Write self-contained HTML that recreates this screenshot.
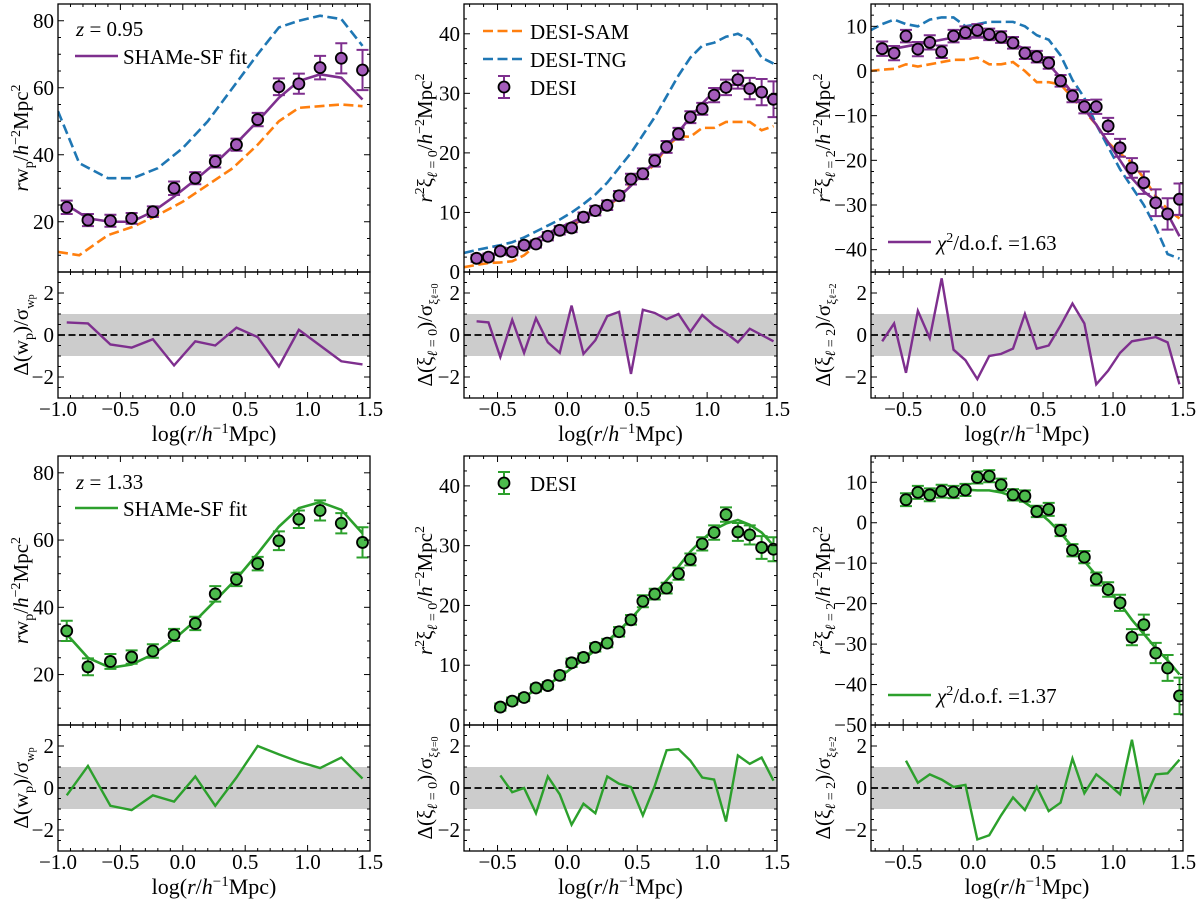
<!DOCTYPE html>
<html><head><meta charset="utf-8">
<style>
html,body{margin:0;padding:0;background:#fff;}
svg{display:block;font-family:"Liberation Serif",serif;}
</style></head>
<body>
<svg id="fig" width="1200" height="904" viewBox="0 0 1200 904" xmlns="http://www.w3.org/2000/svg"></svg>
<script>
// ---- Data ----
const xWp = [-0.93,-0.76,-0.58,-0.41,-0.24,-0.07,0.10,0.26,0.43,0.60,0.77,0.93,1.10,1.27,1.44];
const xXiTop = [-0.65,-0.565,-0.48,-0.395,-0.31,-0.225,-0.14,-0.055,0.03,0.115,0.20,0.285,0.37,0.455,0.54,0.625,0.71,0.795,0.88,0.965,1.05,1.135,1.22,1.305,1.39,1.475];
const xXiBot = [-0.48,-0.395,-0.31,-0.225,-0.14,-0.055,0.03,0.115,0.20,0.285,0.37,0.455,0.54,0.625,0.71,0.795,0.88,0.965,1.05,1.135,1.22,1.305,1.39,1.475];
const xSimWp = [-1.0,-0.83,-0.6,-0.4,-0.2,0.0,0.2,0.4,0.6,0.77,0.93,1.1,1.27,1.44];
const xSimXi = [-0.74,-0.65,-0.565,-0.48,-0.395,-0.31,-0.225,-0.14,-0.055,0.03,0.115,0.20,0.285,0.37,0.455,0.54,0.625,0.71,0.795,0.88,0.965,1.05,1.135,1.22,1.305,1.39,1.475];

// z=0.95 wp
const wpA = [24.3,20.5,20.3,21,23,30,33,38,43,50.5,60.3,61.2,66,68.8,65.3];
const wpAErr = [2,1.8,1.8,1.6,1.6,2,1.8,1.8,1.8,2,2.5,3,3.5,4.5,6];
const wpAFit = [25,21,20,20,23,27.5,32.5,37.5,43.5,50,57,62,64,63,56.5];
const wpATng = [53,37.5,33,33,36,42,50,60,70,78,80,81.5,80.5,72.5];
const wpASam = [11,10,16,18.5,22,26,31,36,43,50,54,54.5,55,54.5];
const wpARes = [0.6,0.55,-0.45,-0.6,-0.2,-1.45,-0.3,-0.5,0.35,-0.1,-1.5,0.25,-0.5,-1.25,-1.4];

// z=0.95 xi0
const x0A = [2.3,2.5,3.5,3.4,4.5,4.7,6,7,7.4,9.2,10.3,11.2,12.8,15.6,16.5,18.7,21,23.2,26,27.4,29.7,31,32.3,30.8,30.2,29];
const x0AErr = [0.6,0.6,0.6,0.6,0.6,0.6,0.7,0.7,0.7,0.8,0.8,0.8,0.8,0.9,0.9,1,1,1,1,1,1.2,1.3,1.5,1.8,2.2,3];
const x0AFit = [2.3,2.6,3.2,3.8,4.6,5.5,6.5,7.5,8.3,9.3,10.2,11.2,12.6,14.5,16.5,18.5,21,23.5,26,28.3,30.3,31.3,31.5,31,30,28.5];
const x0ASam = [0.8,1.2,1.5,1.6,1.8,2.8,4.5,6,7,7.5,9.2,10.2,11,12.5,14.8,16.5,18,21,22.8,22.7,24.2,24.2,25.2,25.2,25.2,23.8,24.5];
const x0ATng = [3.2,3.7,4.1,4.5,5,5.8,6.8,7.8,8.8,10,11.4,13,15,17.5,20,23,26,29.5,33,36,38,38.5,39.5,40,39,36,35];
const x0ARes = [0.65,0.6,-1.05,0.72,-0.85,0.8,-0.35,-0.85,1.4,-0.9,-0.25,0.9,1.1,-1.85,1.2,1.05,0.75,1.0,0.15,0.95,0.45,0.1,-0.35,0.3,0.0,-0.3];

// z=0.95 xi2
const x2A = [5,4,7.8,4.9,6.4,4.3,7.8,8.6,9.1,8.2,7.6,6.3,4,3.2,1.8,-2.2,-5.6,-8,-8,-12.3,-17.2,-21.7,-25,-29.5,-32,-28.7];
const x2AErr = [1.6,1.6,1.4,1.6,1.6,1.4,1.4,1.4,1.4,1.3,1.3,1.3,1.3,1.3,1.3,1.3,1.4,1.5,1.6,1.8,2,2.2,2.5,3,3.5,3.5];
const x2AFit = [4.5,5,5.5,6,6.5,7,7.5,7.5,7.5,7.5,7,6,5,3.5,1.5,-1.5,-5,-8.5,-12,-16,-20,-24,-27,-29,-32,-37];
const x2ASam = [0,0.3,0.5,1.5,1,1.5,2,2.5,2.5,3,1.5,1.5,2,0,-2.5,-2.5,-3,-6,-9,-12,-16,-18.5,-20.5,-24,-28,-31,-33];
const x2ATng = [9,10.5,11.5,10.5,10,11.5,12,12,10,10.5,11,11,11,10,8,7,3.5,-2,-6,-12,-17,-22,-26,-30,-35,-41,-42];
const x2ARes = [-0.3,0.55,-1.8,1.15,-0.15,2.7,-0.7,-1.2,-2.1,-1.0,-0.9,-0.65,1.0,-0.65,-0.5,0.45,1.5,0.55,-2.35,-1.7,-0.85,-0.3,-0.2,-0.1,-0.35,-2.35];

// z=1.33 wp
const wpB = [33,22.3,23.9,25.2,27,31.8,35.2,44,48.3,53,59.8,66.2,68.8,65,59.3];
const wpBErr = [3,2.5,2.2,2,2,1.8,2,2.3,2,2,2.8,2.6,3,3,4.5];
const wpBFit = [32,25,22,23,26,30.5,36,42,48.5,56,64,69.5,71.3,69,62];
const wpBRes = [-0.35,1.05,-0.85,-1.05,-0.35,-0.65,0.55,-0.85,0.5,2.0,1.6,1.25,0.95,1.45,0.45];

// z=1.33 xi0
const x0B = [3,4,4.6,6.2,6.6,8.3,10.4,11.3,13,13.7,15.6,17.6,20.7,21.9,22.9,25.3,27.7,30.3,32.2,35.2,32.3,31.8,29.7,29.4];
const x0BErr = [0.6,0.6,0.6,0.6,0.6,0.7,0.7,0.7,0.7,0.7,0.8,0.8,1,0.9,0.9,1,1,1.1,1.2,1.2,1.5,1.6,1.9,2];
const x0BFit = [3,3.8,4.8,5.8,6.8,8,9.5,11,12.5,14,15.8,17.8,20,22,24.2,26.5,29,31,32.7,33.7,34.3,33.5,32.2,30];
const x0BRes = [0.6,-0.2,0.0,-1.2,0.55,-0.3,-1.75,-0.75,-1.2,0.55,0.2,0.05,-1.3,0.1,1.8,1.85,1.3,0.5,0.4,-1.6,1.55,1.15,1.45,0.35];

// z=1.33 xi2
const x2B = [5.7,7.5,6.9,7.8,7.6,8.1,11.2,11.5,9.4,6.9,6.6,2.8,3.3,-1.9,-6.8,-8.5,-13.9,-16.5,-19.8,-28.3,-25.2,-32.2,-35.9,-42.8];
const x2BErr = [1.6,1.6,1.6,1.6,1.5,1.5,1.5,1.5,1.5,1.4,1.4,1.4,1.6,1.4,1.5,1.5,1.6,1.8,2,2,2.5,2.5,3.2,4.5];
const x2BFit = [7,7.5,7.8,8,8.2,8.2,8,8,7.5,6.5,5,3,0.5,-2.5,-6,-9.5,-13,-16.5,-20,-24,-27.5,-31,-34,-37.5];
const x2BRes = [1.3,0.25,0.65,0.4,0.05,0.15,-2.45,-2.25,-1.3,-0.45,-1.05,0.05,-1.1,-0.7,1.4,-0.25,0.65,0.2,-0.3,2.3,-0.65,0.65,0.7,1.35];

// ---- Rendering ----
const NS = "http://www.w3.org/2000/svg";
const svg = document.getElementById('fig');
const PURPLE_L = "#7e2f8e", PURPLE_F = "#a45cba";
const GREEN_L = "#2ca02c", GREEN_F = "#4cbb4c";
const ORANGE = "#ff7f0e", BLUE = "#1f77b4";
const TICKFS = 21;

function mk(tag, attrs, parent){
  const e = document.createElementNS(NS, tag);
  for (const k in attrs) e.setAttribute(k, attrs[k]);
  (parent||svg).appendChild(e);
  return e;
}
function scale(d0,d1,r0,r1){ return v => r0 + (v-d0)/(d1-d0)*(r1-r0); }

function ticks(g, X, Y, x0,x1,y0,y1, xlim, ylim, xMaj, xMin, yMaj, yMin, showXLabels, xLabY){
  const eps=1e-9;
  const addT = (x1_,y1_,x2_,y2_) => { const t = mk('line',{x1:x1_,y1:y1_,x2:x2_,y2:y2_,stroke:'#000','stroke-width':1},g);   };
  for (let v=Math.ceil(xlim[0]/xMin-eps)*xMin; v<=xlim[1]+eps; v+=xMin){
    const isMaj = Math.abs(v/xMaj-Math.round(v/xMaj))<1e-6;
    const L = isMaj?6:3, px=X(v);
    addT(px,y1,px,y1-L); addT(px,y0,px,y0+L);
    if (isMaj && showXLabels){
      const t = mk('text',{x:px,y:xLabY,'text-anchor':'middle','font-size':TICKFS},g);
      t.textContent = (v<-eps?'\u2212':'')+Math.abs(v).toFixed(1);
       
    }
  }
  for (let v=Math.ceil(ylim[0]/yMin-eps)*yMin; v<=ylim[1]+eps; v+=yMin){
    const isMaj = Math.abs(v/yMaj-Math.round(v/yMaj))<1e-6;
    const L = isMaj?6:3, py=Y(v);
    addT(x0,py,x0+L,py); addT(x1,py,x1-L,py);
    if (isMaj){
      const r = Math.round(v);
      const t = mk('text',{x:x0-4,y:py+7,'text-anchor':'end','font-size':TICKFS},g);
      t.textContent = (r<0?'\u2212':'')+Math.abs(r);
       
    }
  }
}
function pathFrom(xs, ys, X, Y){ return xs.map((x,i)=>(i?'L':'M')+X(x).toFixed(2)+','+Y(ys[i]).toFixed(2)).join(''); }

function panel(cfg){
  const g = mk('g',{});
  
  
  const {x0,x1,yT,yM,yB,xlim,ylim} = cfg;
  const X = scale(xlim[0],xlim[1],x0,x1);
  const Y = scale(ylim[0],ylim[1],yM,yT);
  const R = scale(-3,3,yB,yM);
  const clipId = cfg.name+'-clip', clipR = cfg.name+'-clipr';
  const defs = mk('defs',{},g);
  const cp = mk('clipPath',{id:clipId},defs); mk('rect',{x:x0,y:yT,width:x1-x0,height:yM-yT},cp);
  const cp2 = mk('clipPath',{id:clipR},defs); mk('rect',{x:x0,y:yM,width:x1-x0,height:yB-yM},cp2);
  const main = mk('g',{'clip-path':'url(#'+clipId+')'},g);
  (cfg.sims||[]).forEach(s=>{
    const p = mk('path',{d:pathFrom(s.x,s.y,X,Y),fill:'none',stroke:s.color,'stroke-width':2.6,'stroke-dasharray':'10,4.5'},main);
    
    
  });
  const fp = mk('path',{d:pathFrom(cfg.x,cfg.fit,X,Y),fill:'none',stroke:cfg.lc,'stroke-width':2.6},main);
  
  
  cfg.x.forEach((xv,i)=>{
    const px=X(xv), py=Y(cfg.d[i]), pe1=Y(cfg.d[i]+cfg.e[i]), pe2=Y(cfg.d[i]-cfg.e[i]);
    const eb = mk('path',{d:`M${px},${pe1}L${px},${pe2}M${px-6},${pe1}L${px+6},${pe1}M${px-6},${pe2}L${px+6},${pe2}`,stroke:cfg.lc,'stroke-width':2,fill:'none'},main);
    
    
    const c = mk('circle',{cx:px,cy:py,r:5.5,fill:cfg.fc,stroke:'#000','stroke-width':1.8},main);
    
    
  });
  const rg = mk('g',{'clip-path':'url(#'+clipR+')'},g);
  const band = mk('rect',{x:x0,y:R(1),width:x1-x0,height:R(-1)-R(1),fill:'#cccccc'},rg);
   
  const zl = mk('line',{x1:x0,x2:x1,y1:R(0),y2:R(0),stroke:'#000','stroke-width':1.8,'stroke-dasharray':'7,3.5'},rg);
   
  const rp = mk('path',{d:pathFrom(cfg.x,cfg.res,X,R),fill:'none',stroke:cfg.lc,'stroke-width':2.4},rg);
  
  
  const f1 = mk('rect',{x:x0,y:yT,width:x1-x0,height:yM-yT,fill:'none',stroke:'#000','stroke-width':1.3},g);
   
  const f2 = mk('rect',{x:x0,y:yM,width:x1-x0,height:yB-yM,fill:'none',stroke:'#000','stroke-width':1.3},g);
   
  ticks(g,X,Y,x0,x1,yT,yM,xlim,ylim,0.5,0.1,cfg.yMaj,cfg.yMin,false,0);
  ticks(g,X,R,x0,x1,yM,yB,xlim,[-3,3],0.5,0.1,2,0.5,true,yB+18);
  const xl = mk('text',{x:(x0+x1)/2,y:yB+43,'text-anchor':'middle','font-size':22},g);
  xl.innerHTML = 'log(<tspan font-style="italic">r</tspan>/<tspan font-style="italic">h</tspan><tspan dy="-8" font-size="15">\u22121</tspan><tspan dy="8">Mpc)</tspan>';
   
  const yl = mk('text',{transform:`translate(${cfg.ylx},${(yT+yM)/2}) rotate(-90)`,'text-anchor':'middle','font-size':21},g);
  yl.innerHTML = cfg.ylab;
   
  const rl = mk('text',{transform:`translate(${cfg.ylx},${(yM+yB)/2}) rotate(-90)`,'text-anchor':'middle','font-size':21},g);
  rl.innerHTML = cfg.rlab;
   
  return g;
}

const labWp = '<tspan font-style="italic">r</tspan>w<tspan dy="5" font-size="14">p</tspan><tspan dy="-5">/</tspan><tspan font-style="italic">h</tspan><tspan dy="-8" font-size="14">\u22122</tspan><tspan dy="8">Mpc</tspan><tspan dy="-8" font-size="14">2</tspan>';
const labX0 = '<tspan font-style="italic">r</tspan><tspan dy="-8" font-size="14">2</tspan><tspan dy="8">\u03be</tspan><tspan dy="5" font-size="14"><tspan font-style="italic">\u2113</tspan> = 0</tspan><tspan dy="-5">/</tspan><tspan font-style="italic">h</tspan><tspan dy="-8" font-size="14">\u22122</tspan><tspan dy="8">Mpc</tspan><tspan dy="-8" font-size="14">2</tspan>';
const labX2 = labX0.replace('= 0','= 2');
const resWp = '\u0394(w<tspan dy="5" font-size="14">p</tspan><tspan dy="-5">)/\u03c3</tspan><tspan dy="6" font-size="13">w<tspan font-size="10">p</tspan></tspan>';
const resX0 = '\u0394(\u03be<tspan dy="5" font-size="14"><tspan font-style="italic">\u2113</tspan> = 0</tspan><tspan dy="-5">)/\u03c3</tspan><tspan dy="6" font-size="13">\u03be<tspan font-size="10">\u2113=0</tspan></tspan>';
const resX2 = resX0.replace('= 0','= 2').replace('\u2113=0','\u2113=2');

const rows = [{yT:4,yM:272,yB:398},{yT:456,yM:725,yB:851}];
const cols = [{x0:58,x1:370,xlim:[-1,1.5],ylx:28},{x0:464,x1:777,xlim:[-0.74,1.5],ylx:432},{x0:871,x1:1183,xlim:[-0.73,1.5],ylx:830}];

panel(Object.assign({name:'panel-wp-z095',x:xWp,d:wpA,e:wpAErr,fit:wpAFit,res:wpARes,lc:PURPLE_L,fc:PURPLE_F,ylim:[5,85],yMaj:20,yMin:5,ylab:labWp,rlab:resWp,
  sims:[{name:'desi-tng-line',x:xSimWp,y:wpATng,color:BLUE},{name:'desi-sam-line',x:xSimWp,y:wpASam,color:ORANGE}]},rows[0],cols[0]));
panel(Object.assign({name:'panel-xi0-z095',x:xXiTop,d:x0A,e:x0AErr,fit:x0AFit,res:x0ARes,lc:PURPLE_L,fc:PURPLE_F,ylim:[0,45],yMaj:10,yMin:2.5,ylab:labX0,rlab:resX0,
  sims:[{name:'desi-tng-line',x:xSimXi,y:x0ATng,color:BLUE},{name:'desi-sam-line',x:xSimXi,y:x0ASam,color:ORANGE}]},rows[0],cols[1]));
panel(Object.assign({name:'panel-xi2-z095',x:xXiTop,d:x2A,e:x2AErr,fit:x2AFit,res:x2ARes,lc:PURPLE_L,fc:PURPLE_F,ylim:[-45,15],yMaj:10,yMin:2.5,ylab:labX2,rlab:resX2,
  sims:[{name:'desi-tng-line',x:xSimXi,y:x2ATng,color:BLUE},{name:'desi-sam-line',x:xSimXi,y:x2ASam,color:ORANGE}]},rows[0],cols[2]));
panel(Object.assign({name:'panel-wp-z133',x:xWp,d:wpB,e:wpBErr,fit:wpBFit,res:wpBRes,lc:GREEN_L,fc:GREEN_F,ylim:[5,85],yMaj:20,yMin:5,ylab:labWp,rlab:resWp},rows[1],cols[0]));
panel(Object.assign({name:'panel-xi0-z133',x:xXiBot,d:x0B,e:x0BErr,fit:x0BFit,res:x0BRes,lc:GREEN_L,fc:GREEN_F,ylim:[0,45],yMaj:10,yMin:2.5,ylab:labX0,rlab:resX0},rows[1],cols[1]));
panel(Object.assign({name:'panel-xi2-z133',x:xXiBot,d:x2B,e:x2BErr,fit:x2BFit,res:x2BRes,lc:GREEN_L,fc:GREEN_F,ylim:[-50,16.5],yMaj:10,yMin:2.5,ylab:labX2,rlab:resX2},rows[1],cols[2]));

// ---- Legends ----
function legLine(x,y,color,dash,name){
  const l = mk('line',{x1:x,x2:x+43,y1:y,y2:y,stroke:color,'stroke-width':2.6});
  if (dash) l.setAttribute('stroke-dasharray','10,4.5');
  
  
}
function legText(x,y,html,name){
  const t = mk('text',{x:x,y:y,'font-size':21});
  t.innerHTML = html;
  
  
}
function legMarker(x,y,lc,fc){
  const e = mk('path',{d:`M${x},${y-11}L${x},${y+11}M${x-6},${y-11}L${x+6},${y-11}M${x-6},${y+11}L${x+6},${y+11}`,stroke:lc,'stroke-width':2,fill:'none'});
  
  
  const c = mk('circle',{cx:x,cy:y,r:5.5,fill:fc,stroke:'#000','stroke-width':1.8});
  
  
}
legText(76,36,'<tspan font-style="italic">z</tspan> = 0.95','redshift-label');
legLine(75,56,PURPLE_L,false,'legend-fit-line');
legText(123,64,'SHAMe-SF fit','legend-fit-text');
legLine(483,31,ORANGE,true,'legend-sam-line');
legText(530,39,'DESI-SAM','legend-sam-text');
legLine(483,59,BLUE,true,'legend-tng-line');
legText(530,67,'DESI-TNG','legend-tng-text');
legMarker(504,87,PURPLE_L,PURPLE_F);
legText(530,95,'DESI','legend-desi-text');
legLine(888,242,PURPLE_L,false,'legend-chi2-line');
legText(937,250,'<tspan font-style="italic">\u03c7</tspan><tspan dy="-8" font-size="14">2</tspan><tspan dy="8">/d.o.f. =1.63</tspan>','legend-chi2-text');
legText(76,489,'<tspan font-style="italic">z</tspan> = 1.33','redshift-label');
legLine(75,508,GREEN_L,false,'legend-fit-line');
legText(123,516,'SHAMe-SF fit','legend-fit-text');
legMarker(504,483,GREEN_L,GREEN_F);
legText(530,491,'DESI','legend-desi-text');
legLine(888,695,GREEN_L,false,'legend-chi2-line');
legText(937,703,'<tspan font-style="italic">\u03c7</tspan><tspan dy="-8" font-size="14">2</tspan><tspan dy="8">/d.o.f. =1.37</tspan>','legend-chi2-text');
</script>
</body></html>
